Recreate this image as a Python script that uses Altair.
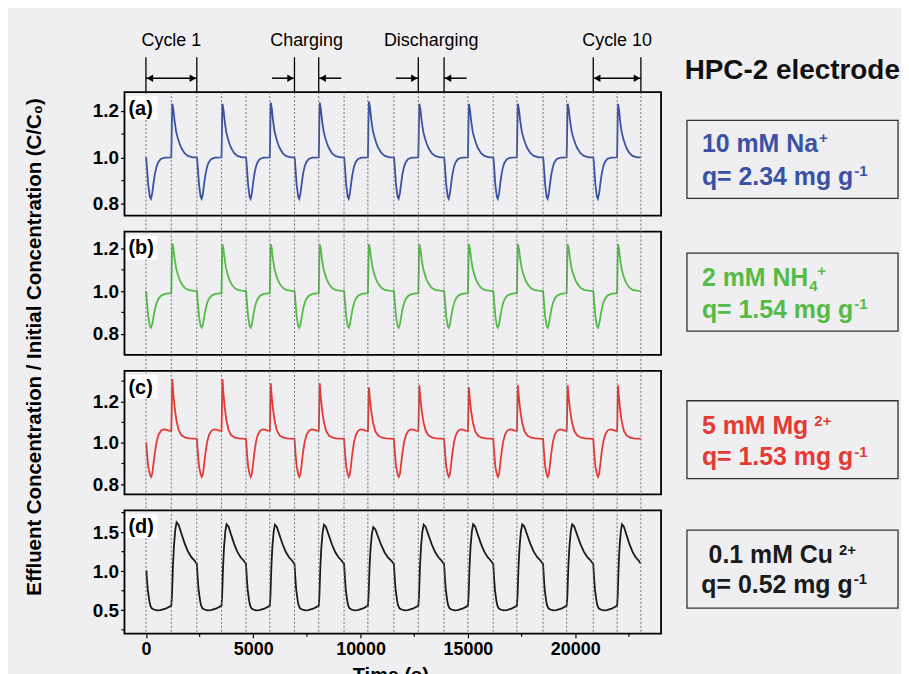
import altair as alt
import pandas as pd

# ---------------- data ----------------
# half-cycle boundaries (s): even index -> charging starts, odd -> discharging starts
boundaries = [0, 1180, 2370, 3520, 4660, 5770, 6920, 8050, 9230, 10340,
              11550, 12690, 13890, 15000, 16180, 17280, 18500, 19600,
              20840, 21950, 23060]

# (a) 10 mM Na+
a_charge_frac = [0, 0.013, 0.04, 0.09, 0.155, 0.195, 0.247, 0.30, 0.35, 0.415, 0.48, 0.585, 0.74, 1.0]
a_charge_val = [1.00, 0.993, 0.956, 0.882, 0.830, 0.822, 0.845, 0.889, 0.926, 0.959, 0.978, 0.993, 0.999, 1.0]
a_dis_frac = [0, 0.013, 0.026, 0.04, 0.08, 0.13, 0.19, 0.26, 0.325, 0.39, 0.52, 0.65, 0.84, 1.0]
a_dis_val = [1.00, 1.07, 1.16, 1.229, 1.206, 1.155, 1.11, 1.081, 1.059, 1.041, 1.018, 1.006, 1.0, 1.0]
a_peaks = [1.23, 1.23, 1.235, 1.235, 1.24, 1.23, 1.23, 1.23, 1.23, 1.23]

# (b) 2 mM NH4+
b_charge_frac = [0, 0.013, 0.04, 0.09, 0.155, 0.2, 0.25, 0.30, 0.36, 0.43, 0.5, 0.6, 0.75, 1.0]
b_charge_val = [1.00, 0.99, 0.95, 0.88, 0.835, 0.828, 0.845, 0.88, 0.918, 0.948, 0.965, 0.979, 0.987, 0.99]
b_dis_frac = [0, 0.013, 0.026, 0.04, 0.08, 0.13, 0.19, 0.26, 0.33, 0.4, 0.52, 0.65, 0.84, 1.0]
b_dis_val = [0.99, 1.06, 1.15, 1.22, 1.20, 1.15, 1.105, 1.075, 1.052, 1.035, 1.016, 1.006, 1.002, 1.0]
b_peaks = [1.225, 1.22, 1.22, 1.22, 1.22, 1.22, 1.22, 1.22, 1.22, 1.22]

# (c) 5 mM Mg2+
c_charge_frac = [0, 0.013, 0.04, 0.09, 0.16, 0.2, 0.25, 0.3, 0.35, 0.42, 0.5, 0.6, 0.7, 0.8, 0.9, 1.0]
c_charge_val = [1.02, 1.0, 0.955, 0.885, 0.845, 0.835, 0.85, 0.9, 0.95, 1.005, 1.04, 1.06, 1.066, 1.064, 1.06, 1.058]
c_dis_frac = [0, 0.013, 0.026, 0.04, 0.08, 0.13, 0.2, 0.29, 0.4, 0.55, 0.7, 0.85, 1.0]
c_dis_val = [1.058, 1.12, 1.22, 1.31, 1.24, 1.175, 1.11, 1.062, 1.037, 1.026, 1.022, 1.021, 1.02]
c_peaks = [1.31, 1.31, 1.29, 1.29, 1.27, 1.28, 1.27, 1.28, 1.28, 1.28]

# (d) 0.1 mM Cu2+
d_charge_frac = [0, 0.02, 0.04, 0.07, 0.107, 0.14, 0.173, 0.23, 0.31, 0.44, 0.57, 0.77, 0.97, 1.0]
d_charge_val = [1.09, 1.0, 0.894, 0.77, 0.68, 0.61, 0.562, 0.525, 0.51, 0.498, 0.502, 0.52, 0.553, 0.556]
d_dis_frac = [0, 0.026, 0.065, 0.104, 0.156, 0.208, 0.286, 0.39, 0.52, 0.65, 0.78, 0.91, 0.97, 1.0]
d_dis_val = [0.556, 0.68, 1.064, 1.32, 1.53, 1.626, 1.596, 1.49, 1.36, 1.255, 1.183, 1.136, 1.106, 1.10]
d_peaks = [1.625, 1.60, 1.595, 1.595, 1.565, 1.595, 1.60, 1.60, 1.60, 1.60]

x_ticks = [0, 5000, 10000, 15000, 20000]
x_minor = [2500, 7500, 12500, 17500, 22500]

# top annotations (s)
ann_lines = [0, 2370, 6920, 8050, 12690, 13890, 20840, 23060]
ann_labels = ["Cycle 1", "Charging", "Discharging", "Cycle 10"]
ann_label_t = [1185, 7485, 13290, 21950]

# ---------------- layout ----------------
W, H = 539, 124
FONT = "Liberation Sans"
XS = alt.Scale(domain=[-1000, 24000], nice=False, zero=False)
bdf = pd.DataFrame({"t": boundaries})
BOX_X0, BOX_X1 = 565, 777

AB = {' ': 278, '+': 584, '-': 584, '.': 278, '=': 584, 'C': 722, 'H': 722,
      'M': 833, 'N': 722, 'a': 556, 'g': 611, 'm': 889, 'q': 611, 'u': 611}


def tw(s, fs):
    return sum(AB.get(ch, 556) for ch in s) * fs / 1000.0


def series(cf, cv, dfr, dv, peaks):
    rows = []
    i = 0
    for k in range(len(boundaries) - 1):
        t0, t1 = boundaries[k], boundaries[k + 1]
        if k % 2 == 0:
            fr = cf
            vals = list(cv)
            if k == 0:
                vals[0] = 1.0
        else:
            fr = dfr
            base = dv[-1]
            top = max(dv)
            pk = peaks[k // 2]
            vals = [base + (v - base) * (pk - base) / (top - base) if v > base else v for v in dv]
        for f, v in zip(fr, vals):
            rows.append({"i": i, "t": t0 + f * (t1 - t0), "v": v})
            i += 1
    return pd.DataFrame(rows)


FS, FSS = 25, 15


def one():
    return pd.DataFrame({"a": [0]})


def txt(s, x, y, fs, color, weight="bold", align="left", baseline="alphabetic", angle=0):
    kw = dict(text=s, font=FONT, fontSize=fs, fontWeight=weight, align=align,
              baseline=baseline, color=color)
    if angle:
        kw["angle"] = angle
    return alt.Chart(one()).mark_text(**kw).encode(x=alt.value(x), y=alt.value(y))


def box_layers(lines, color):
    out = []
    for base, x, y, extras in lines:
        out.append(txt(base, x, y, FS, color))
        xe = x + tw(base, FS)
        for s, dx, dy in extras:
            out.append(txt(s, xe + dx, y + dy, FSS, color))
    return out


def panel(label, color, df, ydom, majors, minors, box_y, lines, rule_y, bottom=False, top=False):
    ysc = alt.Scale(domain=ydom, nice=False, zero=False)
    if bottom:
        xaxis = alt.Axis(values=x_ticks, format="d", labelFontSize=18, labelFontWeight="bold",
                         labelFont=FONT, labelColor="black", tickSize=4, tickColor="black",
                         tickWidth=1.2, labelPadding=3, labelFlush=False, domain=False, grid=False,
                         title=None)
    else:
        xaxis = None
    yaxis = alt.Axis(values=majors, format=".1f", labelFontSize=19, labelFontWeight="bold",
                     labelFont=FONT, labelColor="black", tickSize=4, tickColor="black",
                     tickWidth=1.2, labelPadding=2, domain=False, grid=False, title=None)

    def X(field):
        return alt.X(field, scale=XS, axis=xaxis)

    def Y(field):
        return alt.Y(field, scale=ysc, axis=yaxis)

    layers = []
    layers.append(alt.Chart(df).mark_line(color=color, strokeWidth=1.8).encode(
        x=X("t:Q"), y=Y("v:Q"), order="i:Q"))
    layers.append(alt.Chart(bdf).mark_rule(color="#6f6f6f", strokeDash=[2, 2], strokeWidth=1).encode(
        x=X("t:Q"), y=alt.value(rule_y[0]), y2=alt.value(rule_y[1])))
    layers.append(alt.Chart(pd.DataFrame({"v": minors})).mark_rule(color="black", strokeWidth=1.2).encode(
        y=Y("v:Q"), x=alt.value(-3), x2=alt.value(0)))
    if bottom:
        layers.append(alt.Chart(pd.DataFrame({"t": x_minor})).mark_rule(color="black", strokeWidth=1.2).encode(
            x=X("t:Q"), y=alt.value(H), y2=alt.value(H + 3)))
        layers.append(txt("Time (s)", W / 2 - 2, H + 32, 20, "black", align="center", baseline="top"))
    # panel letter with white patch
    layers.append(alt.Chart(one()).mark_rect(fill="white").encode(
        x=alt.value(1.5), x2=alt.value(33), y=alt.value(4), y2=alt.value(28)))
    layers.append(txt(label, 4, 23, 20, "black"))
    # right-hand box
    layers.append(alt.Chart(one()).mark_rect(
        fill="transparent", stroke="#333333", strokeWidth=1.3).encode(
        x=alt.value(BOX_X0), x2=alt.value(BOX_X1), y=alt.value(box_y[0]), y2=alt.value(box_y[1])))
    layers += box_layers(lines, color)
    if top:
        layers.append(alt.Chart(one()).mark_rect(fill="transparent").encode(
            x=alt.value(-115.3), x2=alt.value(777.5), y=alt.value(-82), y2=alt.value(-81)))
        layers.append(txt("Effluent Concentration / Initial Concentration (C/C\u2080)", -90, 256, 20.5,
                          "black", align="center", baseline="middle", angle=270))
        layers.append(txt("HPC-2 electrode", 562.7, -13, 28, "#111111"))
        layers.append(alt.Chart(pd.DataFrame({"t": ann_lines})).mark_rule(color="black", strokeWidth=1.3).encode(
            x=X("t:Q"), y=alt.value(-35), y2=alt.value(0)))
        shafts = pd.DataFrame({"t": [0, 20840, 6920 - 1050, 8050, 12690 - 1050, 13890],
                               "t2": [2370, 23060, 6920, 8050 + 1050, 12690, 13890 + 1050]})
        layers.append(alt.Chart(shafts).mark_rule(color="black", strokeWidth=1.5).encode(
            x=X("t:Q"), x2="t2:Q", y=alt.value(-14)))
        layers.append(alt.Chart(pd.DataFrame({"t": [2370, 23060, 6920, 12690]})).mark_point(
            shape="triangle-right", filled=True, color="black", size=55, opacity=1, xOffset=-4).encode(
            x=X("t:Q"), y=alt.value(-14)))
        layers.append(alt.Chart(pd.DataFrame({"t": [0, 20840, 8050, 13890]})).mark_point(
            shape="triangle-left", filled=True, color="black", size=55, opacity=1, xOffset=4).encode(
            x=X("t:Q"), y=alt.value(-14)))
        layers.append(alt.Chart(pd.DataFrame({"t": ann_label_t, "s": ann_labels})).mark_text(
            font=FONT, fontSize=18, align="center", baseline="alphabetic", color="black").encode(
            x=X("t:Q"), y=alt.value(-46), text="s:N"))
    return alt.layer(*layers).properties(width=W, height=H)


ta = [("10 mM Na", 580, 60, [("+", 1, -9)]),
      ("q= 2.34 mg g", 580, 93.3, [("-1", 1, -9)])]
tb = [("2 mM NH", 580, 55, [("4", 1, 5), ("+", 9, -10)]),
      ("q= 1.54 mg g", 580, 86.7, [("-1", 1, -9)])]
tc = [("5 mM Mg", 580, 63.3, [("2+", 6, -8)]),
      ("q= 1.53 mg g", 580, 95, [("-1", 1, -9)])]
td = [("0.1 mM Cu", 586.7, 52.7, [("2+", 6, -8)]),
      ("q= 0.52 mg g", 579.4, 83.3, [("-1", 1, -9)])]

pa = panel("(a)", "#3b52a4", series(a_charge_frac, a_charge_val, a_dis_frac, a_dis_val, a_peaks),
           [0.75, 1.28], [0.8, 1.0, 1.2], [0.9, 1.1], (28.3, 106.7), ta, (0, H + 8), top=True)
pb = panel("(b)", "#55bb48", series(b_charge_frac, b_charge_val, b_dis_frac, b_dis_val, b_peaks),
           [0.70, 1.28], [0.8, 1.0, 1.2], [0.9, 1.1], (21.7, 100), tb, (-8, H + 8))
pc = panel("(c)", "#e43a36", series(c_charge_frac, c_charge_val, c_dis_frac, c_dis_val, c_peaks),
           [0.75, 1.35], [0.8, 1.0, 1.2], [0.9, 1.1, 1.3], (30, 108.3), tc, (-8, H + 8))
pd_ = panel("(d)", "#1a1a1a", series(d_charge_frac, d_charge_val, d_dis_frac, d_dis_val, d_peaks),
            [0.2, 1.78], [0.5, 1.0, 1.5], [0.25, 0.75, 1.25, 1.75], (20, 98.3), td, (-8, H), bottom=True)

chart = alt.vconcat(pa, pb, pc, pd_, spacing=16, bounds="flush").properties(
    padding=0, background="#efeff1"
).configure_view(stroke="black", strokeWidth=1.8)

chart.save("out.html", embed_options={"renderer": "svg", "actions": False})
